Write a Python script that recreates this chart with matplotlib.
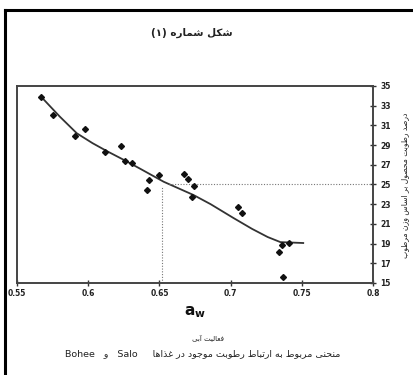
import re
import matplotlib
matplotlib.use("Agg")
import matplotlib.pyplot as plt
from matplotlib.lines import Line2D
from matplotlib.font_manager import findfont, FontProperties
from matplotlib.ft2font import FT2Font

# ---------------- data ----------------
aw_points = [0.567, 0.575, 0.591, 0.598, 0.612, 0.623, 0.626, 0.631, 0.643, 0.641,
             0.650, 0.667, 0.670, 0.674, 0.673, 0.705, 0.708, 0.736, 0.734, 0.741, 0.737]
moist_points = [33.85, 32.06, 29.92, 30.6, 28.33, 28.94, 27.39, 27.2, 25.46, 24.44,
                25.96, 26.07, 25.59, 24.85, 23.76, 22.75, 22.14, 18.86, 18.18, 19.03, 15.64]
curve_aw = [0.567, 0.580, 0.592, 0.603, 0.613, 0.625, 0.636, 0.653, 0.674, 0.686, 0.702,
            0.715, 0.726, 0.735, 0.751]
curve_moist = [33.9, 31.9, 30.2, 29.2, 28.4, 27.5, 26.64, 25.28, 23.93, 23.0, 21.6,
               20.5, 19.67, 19.15, 19.06]
ref_aw = 0.652
ref_moist = 25.0
x_ticks = [0.55, 0.6, 0.65, 0.7, 0.75, 0.8]
x_ticklabels = ["0.55", "0.6", "0.65", "0.7", "0.75", "0.8"]
y_ticks = [15, 17, 19, 21, 23, 25, 27, 29, 31, 33, 35]
y_ticklabels = ["15", "17", "19", "21", "23", "25", "27", "29", "31", "33", "35"]
title_text = "شکل شماره (۱)"
xlabel_fa = "فعالیت آبی"
caption_text = "منحنی مربوط به ارتباط رطوبت موجود در غذاها     Salo   و   Bohee"
ylabel_text = "درصد رطوبت محصول بر اساس وزن مرطوب"

# ---------------- simple Persian shaping ----------------
FONT = "DejaVu Sans"
try:
    _cmap = FT2Font(findfont(FontProperties(family=FONT))).get_charmap()
except Exception:
    _cmap = None

def _has(cp):
    return _cmap is None or cp in _cmap

def _r(a):
    return (a, a + 1, a + 2, a + 3)

FORMS = {
    'ا': (0xFE8D, 0xFE8E, None, None), 'آ': (0xFE81, 0xFE82, None, None),
    'ب': _r(0xFE8F), 'ت': _r(0xFE95), 'ث': _r(0xFE99), 'ج': _r(0xFE9D), 'ح': _r(0xFEA1),
    'خ': _r(0xFEA5), 'د': (0xFEA9, 0xFEAA, None, None), 'ذ': (0xFEAB, 0xFEAC, None, None),
    'ر': (0xFEAD, 0xFEAE, None, None), 'ز': (0xFEAF, 0xFEB0, None, None),
    'س': _r(0xFEB1), 'ش': _r(0xFEB5), 'ص': _r(0xFEB9), 'ض': _r(0xFEBD), 'ط': _r(0xFEC1),
    'ظ': _r(0xFEC5), 'ع': _r(0xFEC9), 'غ': _r(0xFECD), 'ف': _r(0xFED1), 'ق': _r(0xFED5),
    'ل': _r(0xFEDD), 'م': _r(0xFEE1), 'ن': _r(0xFEE5), 'ه': _r(0xFEE9),
    'و': (0xFEED, 0xFEEE, None, None),
    'ک': _r(0xFB8E) if all(_has(c) for c in _r(0xFB8E)) else _r(0xFED9),
    'ی': _r(0xFBFC) if all(_has(c) for c in _r(0xFBFC)) else (0xFEEF, 0xFEF0, 0xFEF3, 0xFEF4),
    'پ': _r(0xFB56),
}

def shape(s):
    out = []
    for i, ch in enumerate(s):
        if ch not in FORMS:
            out.append(ch)
            continue
        f = FORMS[ch]
        prev = s[i - 1] if i > 0 else ''
        nxt = s[i + 1] if i + 1 < len(s) else ''
        jp = prev in FORMS and FORMS[prev][2] is not None
        jn = f[2] is not None and nxt in FORMS
        if jp and jn:
            cp = f[3]
        elif jp:
            cp = f[1]
        elif jn:
            cp = f[2]
        else:
            cp = f[0]
        out.append(chr(cp) if _has(cp) else ch)
    return ''.join(out)

MIRROR = {'(': ')', ')': '('}

def visual(s):
    sh = shape(s)
    runs = re.findall(r'[A-Za-z0-9.]+|.', sh)
    runs = [MIRROR.get(r, r) for r in runs]
    return ''.join(reversed(runs))

# ---------------- figure ----------------
plt.rcParams['font.family'] = [FONT]
fig = plt.figure(figsize=(4.14, 3.75), dpi=100)
fig.patch.set_facecolor('white')

# outer frame (top and left edges)
fig.add_artist(Line2D([5 / 414, 5 / 414], [0, 1 - 10 / 375], transform=fig.transFigure,
                      color='black', lw=2.2))
fig.add_artist(Line2D([5 / 414, 1], [1 - 10 / 375, 1 - 10 / 375], transform=fig.transFigure,
                      color='black', lw=2.2))

ax = fig.add_axes([17 / 414, 92 / 375, 356 / 414, 197 / 375])
ax.set_xlim(0.55, 0.8)
ax.set_ylim(15, 35)

ax.plot(curve_aw, curve_moist, color='#333333', lw=1.3, zorder=2)
ax.plot(aw_points, moist_points, linestyle='none', marker='D', markersize=3.0,
        color='#111111', zorder=3)
ax.plot([ref_aw, ref_aw], [15, ref_moist - 0.3], linestyle=(0, (1, 1.5)), color='#777777', lw=0.8)
ax.plot([ref_aw + 0.005, 0.8], [ref_moist, ref_moist], linestyle=(0, (1, 1.5)), color='#777777', lw=0.8)

for sp in ax.spines.values():
    sp.set_color('#444444')
    sp.set_linewidth(1.4)

ax.set_xticks(x_ticks)
ax.set_xticklabels(x_ticklabels, fontsize=5.5, fontweight='bold', color='#222222')
ax.set_yticks(y_ticks)
ax.set_yticklabels(y_ticklabels, fontsize=5.5, fontweight='bold', color='#222222')
ax.yaxis.tick_right()
ax.tick_params(axis='x', direction='inout', length=4, width=1, pad=2.5, color='#333333')
ax.tick_params(axis='y', direction='inout', length=5, width=1, pad=3, color='#333333')

# texts
fig.text(192 / 414, 1 - 33 / 375, visual(title_text), ha='center', va='center',
         fontsize=7.5, fontweight='bold', color='#222222')
fig.text(195 / 414, 1 - 312 / 375, r'$\mathbf{a_w}$', ha='center', va='center',
         fontsize=11, color='#111111')
fig.text(208 / 414, 1 - 338 / 375, visual(xlabel_fa), ha='center', va='center',
         fontsize=5, color='#222222')
fig.text(203 / 414, 1 - 354 / 375, visual(caption_text), ha='center', va='center',
         fontsize=6.8, color='#222222')
fig.text(405 / 414, 1 - 185 / 375, visual(ylabel_text), ha='center', va='center',
         rotation=90, fontsize=5.5, color='#222222')

fig.savefig('out.png', dpi=100, facecolor='white')
